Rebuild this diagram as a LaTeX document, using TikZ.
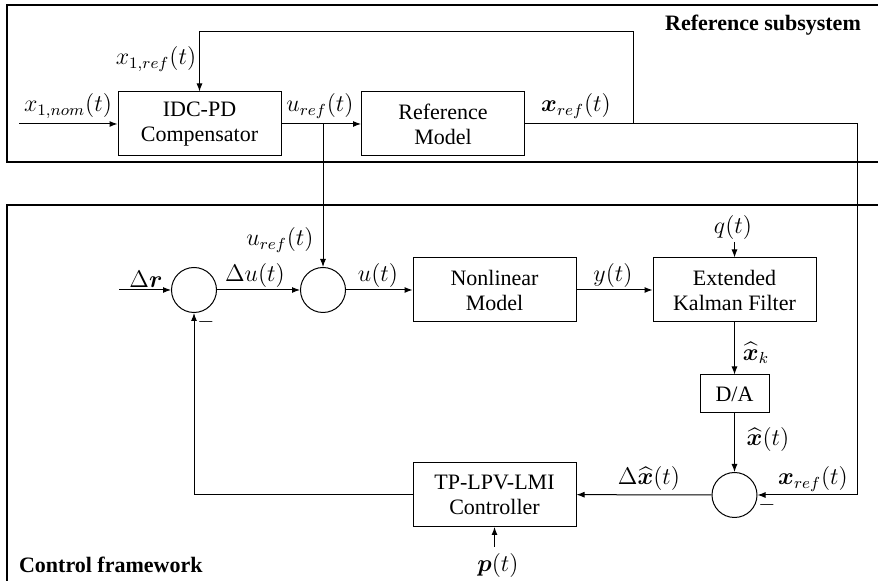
\documentclass[tikz,border=0pt]{standalone}
\usepackage{fontspec}
\setmainfont{Liberation Serif}
\usepackage{amsmath,bm}
\usetikzlibrary{arrows.meta}

\begin{document}
\begin{tikzpicture}[x=0.5pt,y=-0.5pt,
    font=\fontsize{11}{12.5}\selectfont,
    >={Latex[length=4pt,width=3pt]},
    block/.style={draw,line width=0.5pt,minimum width=81.5pt,minimum height=32pt,align=center,inner sep=1pt},
    sumnode/.style={draw,circle,line width=0.5pt,minimum size=22.5pt,inner sep=0pt},
    frame/.style={line width=1pt},
    wire/.style={line width=0.5pt},
    lab/.style={inner sep=1pt,font=\fontsize{12}{14}\selectfont},
    title/.style={font=\fontsize{11}{12.5}\selectfont\bfseries}]

\useasboundingbox (0,0) rectangle (878,581);

% Frames
\draw[frame] (7,5) rectangle (900,162);
\draw[frame] (7,205) rectangle (900,620);
\node[title] (reftitle) at (763,25) {Reference subsystem};
\node[title, anchor=west] (ctrltitle) at (12,565) {Control framework};

% Reference subsystem blocks
\node[block] (idc) at (199.5,124) {IDC-PD\\Compensator};
\node[block] (refmodel) at (443,124) {Reference\\Model};

% Control loop blocks
\node[sumnode] (sumr) at (194,290) {};
\node[sumnode] (sumu) at (323,290) {};
\node[block] (plant) at (494.5,290) {Nonlinear\\Model};
\node[block] (ekf) at (734.5,290) {Extended\\Kalman Filter};
\node[block, minimum width=34.5pt, minimum height=19pt] (da) at (734.5,394) {D/A};
\node[sumnode] (sumx) at (734.5,495) {};
\node[block] (ctrl) at (494.5,494.5) {TP-LPV-LMI\\Controller};

% Free ends and corners
\coordinate (nomin) at (19,124);
\coordinate (rin) at (119,290);
\coordinate (ubranch) at (323,124);
\coordinate (xbranch) at (633,124);
\coordinate (xtop) at (633,32);
\coordinate (xcorner) at (857,124);
\coordinate (qin) at (734.5,242);
\coordinate (pin) at (494.5,547);

% Connections
\draw[wire,->] (nomin) -- (idc);
\draw[wire,->] (idc) -- (refmodel);
\draw[wire,->] (refmodel.east) -- (xcorner) -- (xcorner |- sumx) -- (sumx);
\draw[wire,->] (xbranch) -- (xtop) -- (xtop -| idc) -- (idc);
\draw[wire,->] (ubranch) -- (sumu);
\draw[wire,->] (rin) -- (sumr);
\draw[wire,->] (sumr) -- (sumu);
\draw[wire,->] (sumu) -- (plant);
\draw[wire,->] (plant) -- (ekf);
\draw[wire,->] (qin) -- (ekf);
\draw[wire,->] (ekf) -- (da);
\draw[wire,->] (da) -- (sumx);
\draw[wire,->] (sumx) -- (ctrl);
\draw[wire,->] (pin) -- (ctrl);
\draw[wire,->] (ctrl.west) -- (ctrl.west -| sumr) -- (sumr);

% Signal labels
\node[lab] (lnom) at (68,106) {$x_{1,nom}(t)$};
\node[lab] (lxref1) at (156,59) {$x_{1,ref}(t)$};
\node[lab] (luref) at (320,106) {$u_{ref}(t)$};
\node[lab] (lxref) at (576,106) {$\bm{x}_{ref}(t)$};
\node[lab] (ldr) at (146,279) {$\Delta\bm{r}$};
\node[lab] (ldu) at (255,276) {$\Delta u(t)$};
\node[lab] (luref2) at (280,240) {$u_{ref}(t)$};
\node[lab] (lu) at (378,276) {$u(t)$};
\node[lab] (ly) at (613,276) {$y(t)$};
\node[lab] (lq) at (733,228) {$q(t)$};
\node[lab] (lxk) at (756,353) {$\widehat{\bm{x}}_k$};
\node[lab] (lxhat) at (768,440) {$\widehat{\bm{x}}(t)$};
\node[lab] (lxref2) at (813,479) {$\bm{x}_{ref}(t)$};
\node[lab] (ldx) at (649,479) {$\Delta\widehat{\bm{x}}(t)$};
\node[lab] (lp) at (498,566) {$\bm{p}(t)$};
\node[inner sep=0pt] (minr) at (206,322) {$-$};
\node[inner sep=0pt] (minx) at (767,505) {$-$};

\end{tikzpicture}
\end{document}
